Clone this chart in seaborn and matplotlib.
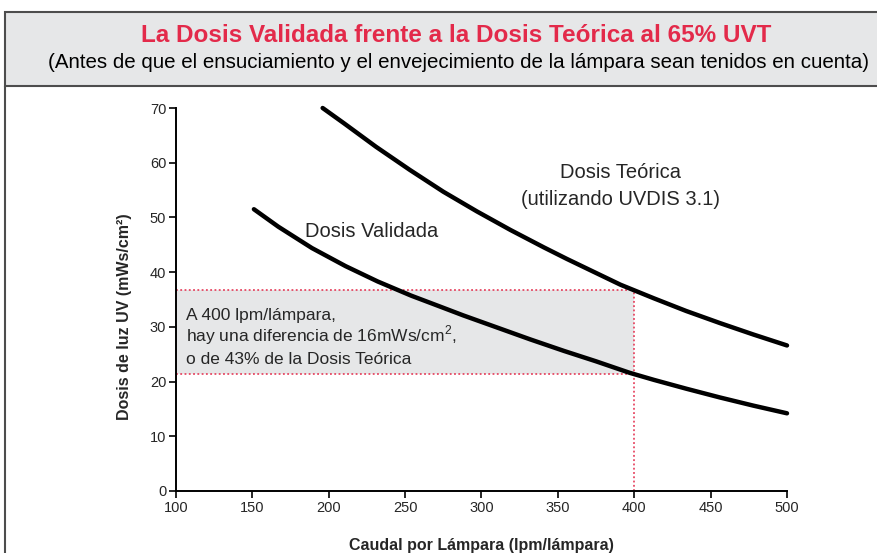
import matplotlib
matplotlib.use("Agg")
import matplotlib.pyplot as plt
from matplotlib.patches import Rectangle
from matplotlib.lines import Line2D
import seaborn as sns
import pandas as pd

# values
theo_flow = [196, 210, 231, 253, 275, 297, 319, 341, 356, 391, 413, 434, 456, 478, 500]
theo_dose = [70.0, 67.2, 62.9, 58.7, 54.7, 51.1, 47.7, 44.5, 42.4, 37.7, 35.2, 32.9,
             30.7, 28.6, 26.6]
valid_flow = [151, 167, 189, 211, 232, 254, 272, 288, 310, 332, 354, 375, 397, 413,
              434, 456, 478, 500]
valid_dose = [51.5, 48.3, 44.4, 41.1, 38.3, 35.7, 33.8, 32.1, 29.9, 27.7, 25.6, 23.7,
              21.6, 20.3, 18.7, 17.1, 15.6, 14.2]
ref_flow = 400
ref_theo = 36.8
ref_valid = 21.3
x_ticks = [100, 150, 200, 250, 300, 350, 400, 450, 500]
y_ticks = [0, 10, 20, 30, 40, 50, 60, 70]

sns.set_style("ticks")
plt.rcParams["font.family"] = ["Liberation Sans", "DejaVu Sans"]
plt.rcParams["mathtext.fontset"] = "custom"
plt.rcParams["mathtext.rm"] = "Liberation Sans"

RED = "#e32a4a"
GREY_BG = "#e6e7e8"
FRAME = "#4d4d4d"

fig = plt.figure(figsize=(8.78, 5.53), dpi=100)

# header band and frame
fig.patches.append(Rectangle((5 / 878, 1 - 86 / 553), 1.0, 74 / 553,
                             transform=fig.transFigure, facecolor=GREY_BG,
                             edgecolor=FRAME, linewidth=1.5, zorder=0))
fig.lines.append(Line2D([5 / 878, 5 / 878], [0, 1 - 86 / 553],
                        transform=fig.transFigure, color=FRAME, linewidth=1.5))
fig.text(456 / 878, 1 - 35 / 553,
         "La Dosis Validada frente a la Dosis Teórica al 65% UVT",
         ha="center", va="center", color=RED, fontsize=17.5, fontweight="bold")
fig.text(459 / 878, 1 - 63 / 553,
         "(Antes de que el ensuciamiento y el envejecimiento de la lámpara sean tenidos en cuenta)",
         ha="center", va="center", color="black", fontsize=14.75)

ax = fig.add_axes([176 / 878, 62 / 553, 611 / 878, 383 / 553])

df_theo = pd.DataFrame({"flow": theo_flow, "dose": theo_dose})
df_valid = pd.DataFrame({"flow": valid_flow, "dose": valid_dose})

# shaded gap at 400 lpm
ax.fill_between([x_ticks[0], ref_flow], ref_valid, ref_theo, color=GREY_BG,
                linewidth=0, zorder=1)
dot = (0, (1.2, 1.6))
ax.plot([x_ticks[0], ref_flow], [ref_theo, ref_theo], color=RED, lw=1.1, ls=dot, zorder=2)
ax.plot([x_ticks[0], ref_flow], [ref_valid, ref_valid], color=RED, lw=1.1, ls=dot, zorder=2)
ax.plot([ref_flow, ref_flow], [0, ref_theo], color=RED, lw=1.1, ls=dot, zorder=2)

sns.lineplot(data=df_theo, x="flow", y="dose", ax=ax, color="black", lw=3.2,
             solid_capstyle="round", solid_joinstyle="round", clip_on=False, zorder=3)
sns.lineplot(data=df_valid, x="flow", y="dose", ax=ax, color="black", lw=3.2,
             solid_capstyle="round", solid_joinstyle="round", clip_on=False, zorder=3)

ax.text(184.5, 46.5, "Dosis Validada", fontsize=14.5, ha="left", va="baseline")
ax.text(391, 58.3, "Dosis Teórica", fontsize=14.5, ha="center", va="center")
ax.text(391, 53.2, "(utilizando UVDIS 3.1)", fontsize=14.5, ha="center", va="center")

ax.text(106.5, 31.3, "A 400 lpm/lámpara,", fontsize=12.5, ha="left", va="baseline")
ax.text(106.5, 27.3, r"hay una diferencia de 16mWs/cm$^{2}$,", fontsize=12.5,
        ha="left", va="baseline")
ax.text(106.5, 23.3, "o de 43% de la Dosis Teórica", fontsize=12.5, ha="left",
        va="baseline")

ax.set_xlim(x_ticks[0], x_ticks[-1])
ax.set_ylim(y_ticks[0], y_ticks[-1])
ax.set_xticks(x_ticks)
ax.set_yticks(y_ticks)
ax.tick_params(labelsize=10.5, length=5, width=1.2, color="black", pad=2)
for side in ["left", "bottom"]:
    ax.spines[side].set_linewidth(1.4)
    ax.spines[side].set_color("black")
sns.despine(ax=ax)
ax.set_facecolor("none")

ax.set_xlabel("Caudal por Lámpara (lpm/lámpara)", fontsize=11.5,
              fontweight="bold", labelpad=17)
ax.set_ylabel("Dosis de luz UV (mWs/cm²)", fontsize=11.5,
              fontweight="bold", labelpad=13)
ax.yaxis.label.set_y(0.454)

fig.savefig("out.png", dpi=100)
